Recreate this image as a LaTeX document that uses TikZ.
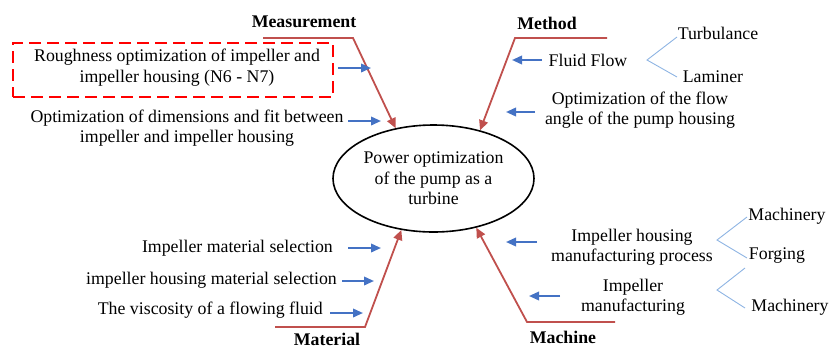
\documentclass[tikz,border=0pt]{standalone}
\usepackage{fontspec}
\setmainfont{Liberation Serif}
\usetikzlibrary{arrows.meta,shapes.geometric}
\definecolor{fishred}{HTML}{C0504D}
\definecolor{arrblue}{HTML}{4472C4}
\definecolor{forkblue}{HTML}{8EB4E3}
\begin{document}
\begin{tikzpicture}[x=1pt,y=-1pt,
  font=\fontsize{17.8}{20.5}\selectfont,
  txt/.style={align=center, inner sep=0pt},
  cat/.style={font=\fontsize{17.8}{20.5}\selectfont\bfseries, inner sep=0pt},
  bone/.style={draw=fishred, line width=1.8pt, -{Triangle[length=10pt,width=9pt]}},
  cause/.style={draw=arrblue, line width=2pt, -{Triangle[length=10pt,width=8.5pt]}},
  fork/.style={draw=forkblue, line width=0.9pt},
  hlbox/.style={draw=red, line width=2.8pt, dash pattern=on 12pt off 6pt, inner sep=0pt}]
\useasboundingbox (0,0) rectangle (829,349);

% central effect
\node[draw, ellipse, line width=1.6pt, minimum width=201pt, minimum height=107pt,
      inner sep=0pt, align=center] (ell) at (433.5,178.5)
      {Power optimization\\of the pump as a\\turbine};

% category labels
\node[cat] (meas) at (304,22) {Measurement};
\node[cat] (meth) at (547,23) {Method};
\node[cat] (matl) at (327,339) {Material};
\node[cat] (mach) at (563,337) {Machine};

% bones
\coordinate (m0) at (263,38);  \coordinate (m1) at (353,38);
\coordinate (t0) at (607,38);  \coordinate (t1) at (515,38);
\coordinate (a0) at (275,327); \coordinate (a1) at (365,327);
\coordinate (c0) at (615,322); \coordinate (c1) at (527,322);
\draw[bone] (m0) -- (m1) -- (ell.127);
\draw[bone] (t0) -- (t1) -- (ell.46);
\draw[bone] (a0) -- (a1) -- (ell.238);
\draw[bone] (c0) -- (c1) -- (ell.311);

% Measurement causes
\node[hlbox, minimum width=320pt, minimum height=54pt] (hl) at (173,70) {};
\node[txt] (rough) at (177,67.5) {Roughness optimization of impeller and\\impeller housing (N6 - N7)};
\node[txt] (dimfit) at (187,128) {Optimization of dimensions and fit between\\impeller and impeller housing};

% Method causes
\node[txt] (flow) at (588,60) {Fluid Flow};
\node[txt] (turb) at (718,33) {Turbulance};
\node[txt] (lam) at (713,77) {Laminer};
\node[txt] (angle) at (640,110) {Optimization of the flow\\angle of the pump housing};

% Material causes
\node[txt, anchor=east] (mat1) at (333,248) {Impeller material selection};
\node[txt, anchor=east] (mat2) at (337,280) {impeller housing material selection};
\node[txt, anchor=east] (mat3) at (323,310) {The viscosity of a flowing fluid};

% Machine causes
\node[txt] (hman) at (632,247) {Impeller housing\\manufacturing process};
\node[txt] (mach1) at (787,216) {Machinery};
\node[txt] (forg) at (777,256) {Forging};
\node[txt] (iman) at (633,297) {Impeller\\manufacturing};
\node[txt] (mach2) at (790,307) {Machinery};

% blue cause arrows
\coordinate (b1s) at (338,68);  \coordinate (b1e) at (371,68);
\coordinate (b2s) at (348,121); \coordinate (b2e) at (381,121);
\coordinate (b3s) at (542,60);  \coordinate (b3e) at (512,60);
\coordinate (b4s) at (535,112); \coordinate (b4e) at (506,112);
\coordinate (b5s) at (348,248); \coordinate (b5e) at (381,248);
\coordinate (b6s) at (342,281); \coordinate (b6e) at (374,281);
\coordinate (b7s) at (330,313); \coordinate (b7e) at (363,313);
\coordinate (b8s) at (537,242); \coordinate (b8e) at (506,242);
\coordinate (b9s) at (560,296); \coordinate (b9e) at (529,296);
\foreach \i in {1,...,9} {\draw[cause] (b\i s) -- (b\i e);}

% forks
\coordinate (f1) at (647,60);  \coordinate (f1a) at (677,37);  \coordinate (f1b) at (677,77);
\coordinate (f2) at (717,240); \coordinate (f2a) at (747,217); \coordinate (f2b) at (747,258);
\coordinate (f3) at (717,290); \coordinate (f3a) at (745,268); \coordinate (f3b) at (745,308);
\draw[fork] (f1a) -- (f1) -- (f1b);
\draw[fork] (f2a) -- (f2) -- (f2b);
\draw[fork] (f3a) -- (f3) -- (f3b);
\end{tikzpicture}
\end{document}
